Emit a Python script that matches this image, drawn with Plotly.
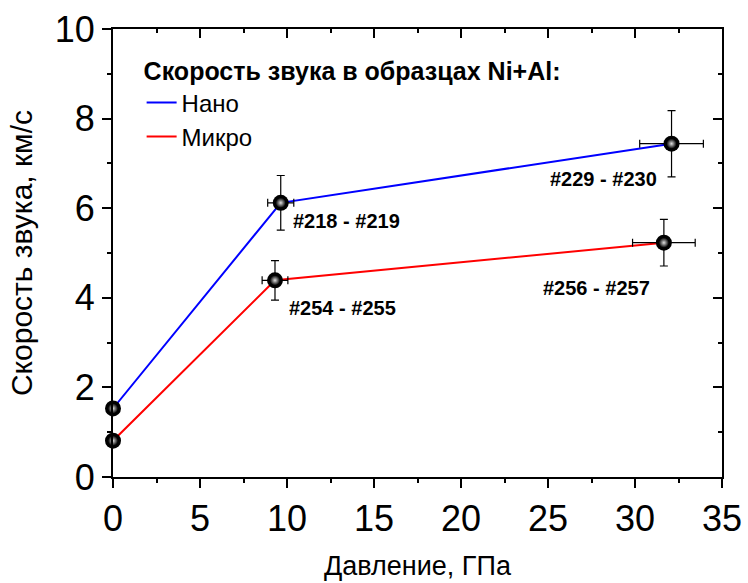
import plotly.graph_objects as go

# Data
nano_p = [0.0, 9.64, 32.1]
nano_v = [1.53, 6.12, 7.44]
nano_ep = [0.0, 0.75, 1.83]
nano_ev = [0.0, 0.61, 0.74]

micro_p = [0.0, 9.31, 31.66]
micro_v = [0.81, 4.39, 5.23]
micro_ep = [0.0, 0.74, 1.8]
micro_ev = [0.0, 0.44, 0.52]

label_texts = ["#218 - #219", "#254 - #255", "#229 - #230", "#256 - #257"]
label_x = [13.44, 13.2, 28.2, 27.8]
label_y = [5.71, 3.78, 6.66, 4.22]

FONT = "Liberation Sans, Arial"

fig = go.Figure()

for p, v, color, name in [(nano_p, nano_v, "#0000ff", "Нано"), (micro_p, micro_v, "#ff0000", "Микро")]:
    fig.add_trace(go.Scatter(x=p, y=v, mode="lines", name=name,
                             line=dict(color=color, width=2), hoverinfo="skip"))

for p, v, ep, ev in [(nano_p, nano_v, nano_ep, nano_ev), (micro_p, micro_v, micro_ep, micro_ev)]:
    fig.add_trace(go.Scatter(
        x=p, y=v, mode="markers", showlegend=False,
        marker=dict(color="black", size=16, line=dict(width=0)),
        error_x=dict(type="data", array=ep, color="black", thickness=1.2, width=4),
        error_y=dict(type="data", array=ev, color="black", thickness=1.2, width=4),
        cliponaxis=False,
    ))
    fig.add_trace(go.Scatter(
        x=p, y=v, mode="markers", showlegend=False, hoverinfo="skip",
        marker=dict(color="#000000", size=10, line=dict(width=0),
                    gradient=dict(type="radial", color="#e0e0e0")),
        cliponaxis=False,
    ))

# invisible trace for mirrored axes
fig.add_trace(go.Scatter(x=nano_p, y=nano_v, xaxis="x2", yaxis="y2", mode="markers",
                         marker=dict(opacity=0), showlegend=False, hoverinfo="skip"))

for t, x, y in zip(label_texts, label_x, label_y):
    fig.add_annotation(x=x, y=y, text="<b>" + t + "</b>", showarrow=False,
                       font=dict(family=FONT, size=20, color="black"))

axis_common = dict(showgrid=False, zeroline=False, showline=True, linecolor="black",
                   linewidth=2, automargin=False)

fig.update_layout(
    width=748, height=583,
    margin=dict(l=113, r=26, t=29, b=106),
    plot_bgcolor="white", paper_bgcolor="white",
    font=dict(family=FONT, color="black"),
    xaxis=dict(range=[0, 35], tick0=0, dtick=5, ticks="outside", ticklen=9, tickwidth=2,
               tickcolor="black", tickfont=dict(size=36),
               minor=dict(dtick=2.5, ticks="outside", ticklen=4, tickwidth=2, tickcolor="black"),
               title=dict(text="Давление, ГПа", font=dict(size=27), standoff=18),
               **axis_common),
    yaxis=dict(range=[0, 10], tick0=0, dtick=2, ticks="outside", ticklen=9, tickwidth=2,
               tickcolor="black", tickfont=dict(size=36),
               minor=dict(dtick=1, ticks="outside", ticklen=4, tickwidth=2, tickcolor="black"),
               title=dict(text="Скорость звука, км/с", font=dict(size=30), standoff=13),
               **axis_common),
    xaxis2=dict(range=[0, 35], overlaying="x", side="top", dtick=5, tick0=0, ticks="inside",
                ticklen=9, tickwidth=2, tickcolor="black", showticklabels=False,
                minor=dict(dtick=2.5, ticks="inside", ticklen=4, tickwidth=2, tickcolor="black"),
                **axis_common),
    yaxis2=dict(range=[0, 10], overlaying="y", side="right", dtick=2, tick0=0, ticks="inside",
                ticklen=9, tickwidth=2, tickcolor="black", showticklabels=False,
                minor=dict(dtick=1, ticks="inside", ticklen=4, tickwidth=2, tickcolor="black"),
                **axis_common),
    legend=dict(x=0.047, y=0.958, xanchor="left", yanchor="top",
                bgcolor="rgba(0,0,0,0)", borderwidth=0,
                title=dict(text="<b>Скорость звука в образцах Ni+Al:</b>", side="top",
                           font=dict(size=25)),
                font=dict(size=24), itemwidth=30, tracegroupgap=0),
    showlegend=True,
)

fig.write_html("out.html")
